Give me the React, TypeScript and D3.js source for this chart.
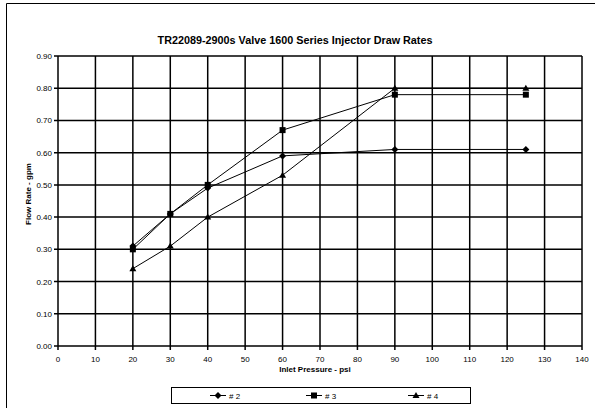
import React from "react";
import * as d3 from "d3";

const pressures = [20, 30, 40, 60, 90, 125];
const series2 = [0.31, 0.41, 0.49, 0.59, 0.61, 0.61];
const series3 = [0.30, 0.41, 0.50, 0.67, 0.78, 0.78];
const series4 = [0.24, 0.31, 0.40, 0.53, 0.80, 0.80];
const seriesNames = ["# 2", "# 3", "# 4"];
const xTicks = d3.range(0, 141, 10);
const yTicks = d3.range(0, 0.901, 0.1);

const W = 595, H = 408;
const L = 58, R = 582, T = 56, B = 346;

function Marker({ kind, x, y }: { kind: number; x: number; y: number }) {
  if (kind === 0) {
    return <path d={`M${x},${y - 3.5}L${x + 3.5},${y}L${x},${y + 3.5}L${x - 3.5},${y}Z`} fill="#000" />;
  }
  if (kind === 1) {
    return <rect x={x - 3} y={y - 3} width={6} height={6} fill="#000" />;
  }
  return <path d={`M${x},${y - 3.5}L${x + 3.5},${y + 2.5}L${x - 3.5},${y + 2.5}Z`} fill="#000" />;
}

export default function App() {
  const x = d3.scaleLinear().domain([0, 140]).range([L, R]);
  const y = d3.scaleLinear().domain([0, 0.9]).range([B, T]);
  const all = [series2, series3, series4];
  const line = d3.line<number>().x((_, i) => x(pressures[i])).y((d) => y(d));
  const font = "Liberation Sans, Arial, sans-serif";
  const legendX = [210, 306, 408];
  return (
    <svg width={W} height={H} style={{ position: "absolute", left: 0, top: 0 }} fontFamily={font}>
      <rect x={0} y={0} width={W} height={H} fill="#fff" />
      <path d={`M6.5,${H}V3.5H${W}`} fill="none" stroke="#000" strokeWidth={1} />
      <text x={295} y={44} textAnchor="middle" fontSize={10.8} fontWeight="bold">
        TR22089-2900s Valve 1600 Series Injector Draw Rates
      </text>
      {xTicks.map((t) => (
        <line key={"vx" + t} x1={x(t)} x2={x(t)} y1={T} y2={B + 4} stroke="#000" strokeWidth={1.5} />
      ))}
      {yTicks.map((t, i) => (
        <line key={"hy" + i} x1={L - 4} x2={R} y1={y(t)} y2={y(t)} stroke="#000" strokeWidth={1.5} />
      ))}
      {xTicks.map((t) => (
        <text key={"tx" + t} x={x(t)} y={B + 16} textAnchor="middle" fontSize={8}>{t}</text>
      ))}
      {yTicks.map((t, i) => (
        <text key={"ty" + i} x={L - 6} y={y(t) + 3} textAnchor="end" fontSize={8}>{t.toFixed(2)}</text>
      ))}
      <text x={315} y={372} textAnchor="middle" fontSize={8} fontWeight="bold">Inlet Pressure - psi</text>
      <text transform={`translate(31,194) rotate(-90)`} textAnchor="middle" fontSize={8} fontWeight="bold">
        Flow Rate - gpm
      </text>
      {all.map((s, k) => (
        <g key={"s" + k}>
          <path d={line(s) || ""} fill="none" stroke="#000" strokeWidth={1} />
          {s.map((v, i) => (
            <Marker key={i} kind={k} x={x(pressures[i])} y={y(v)} />
          ))}
        </g>
      ))}
      <rect x={171.5} y={387.5} width={299} height={16} fill="#fff" stroke="#000" strokeWidth={1} />
      {seriesNames.map((n, k) => (
        <g key={"lg" + k}>
          <line x1={legendX[k]} x2={legendX[k] + 16} y1={395.5} y2={395.5} stroke="#000" strokeWidth={1} />
          <Marker kind={k} x={legendX[k] + 8} y={395.5} />
          <text x={legendX[k] + 19} y={398.5} fontSize={8}>{n}</text>
        </g>
      ))}
    </svg>
  );
}
